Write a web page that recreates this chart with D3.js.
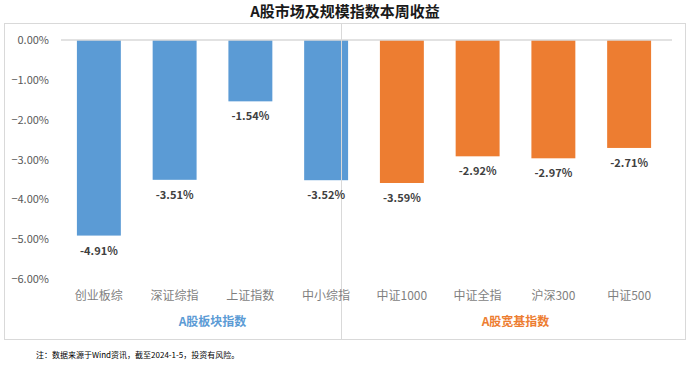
<!DOCTYPE html>
<html>
<head>
<meta charset="utf-8">
<script src="https://cdn.jsdelivr.net/npm/d3@7"></script>
<style>
  body { margin: 0; background: #fff; }
  text { font-family: "Noto Sans CJK SC", "Noto Sans", sans-serif; }
</style>
</head>
<body>
<svg id="chart" width="689" height="368"></svg>
<script>
// dati
const categories = ["创业板综", "深证综指", "上证指数", "中小综指", "中证1000", "中证全指", "沪深300", "中证500"];
const values = [-4.91, -3.51, -1.54, -3.52, -3.59, -2.92, -2.97, -2.71];
const groups = ["A股板块指数", "A股宽基指数"];
const groupOf = [0, 0, 0, 0, 1, 1, 1, 1];
const yTicks = [0, -1, -2, -3, -4, -5, -6];

const colors = ["#5B9BD5", "#ED7D31"];

const svg = d3.select("#chart");

// cornice
svg.append("rect")
  .attr("x", 4.5).attr("y", 23.5)
  .attr("width", 681).attr("height", 316)
  .attr("fill", "none")
  .attr("stroke", "#d9d9d9");

// titolo
svg.append("text")
  .attr("x", 345).attr("y", 17)
  .attr("text-anchor", "middle")
  .attr("font-size", 15)
  .attr("font-weight", "bold")
  .attr("fill", "#1a1a1a")
  .text("A股市场及规模指数本周收益");

const plot = { left: 61, right: 672, top: 40, bottom: 279 };

const x = d3.scaleBand()
  .domain(categories)
  .range([plot.left, 667])
  .paddingInner(0.42)
  .paddingOuter(0.21);

const y = d3.scaleLinear()
  .domain([-6, 0])
  .range([plot.bottom, plot.top]);

// asse Y
const yAxis = svg.append("g")
  .attr("transform", `translate(${plot.left},0)`)
  .call(d3.axisLeft(y).tickValues(yTicks).tickSize(0).tickPadding(12)
    .tickFormat(d => d3.format(".2f")(d) + "%"));
yAxis.select(".domain").remove();
yAxis.selectAll("text")
  .attr("font-size", 11)
  .attr("fill", "#595959");

// barre
svg.selectAll("rect.bar")
  .data(values)
  .join("rect")
  .attr("class", "bar")
  .attr("x", (d, i) => x(categories[i]))
  .attr("y", y(0))
  .attr("width", x.bandwidth())
  .attr("height", d => y(d) - y(0))
  .attr("fill", (d, i) => colors[groupOf[i]]);

// linea dello zero
svg.append("line")
  .attr("x1", plot.left).attr("x2", plot.right)
  .attr("y1", y(0)).attr("y2", y(0))
  .attr("stroke", "#d9d9d9")
  .attr("stroke-width", 1.5);

// separatore tra i gruppi
svg.append("line")
  .attr("x1", 341.5).attr("x2", 341.5)
  .attr("y1", 23.5).attr("y2", 339.5)
  .attr("stroke", "#d9d9d9");

// etichette valori
svg.selectAll("text.val")
  .data(values)
  .join("text")
  .attr("class", "val")
  .attr("x", (d, i) => x(categories[i]) + x.bandwidth() / 2)
  .attr("y", d => y(d) + 19)
  .attr("text-anchor", "middle")
  .attr("font-size", 11)
  .attr("font-weight", "bold")
  .attr("fill", "#404040")
  .text(d => d.toFixed(2) + "%");

// etichette categorie
svg.selectAll("text.cat")
  .data(categories)
  .join("text")
  .attr("class", "cat")
  .attr("x", d => x(d) + x.bandwidth() / 2)
  .attr("y", 300)
  .attr("text-anchor", "middle")
  .attr("font-size", 12)
  .attr("fill", "#7f7f7f")
  .text(d => d);

// etichette gruppi
groups.forEach((g, gi) => {
  const cats = categories.filter((c, i) => groupOf[i] === gi);
  const cx = (x(cats[0]) + x(cats[cats.length - 1]) + x.bandwidth()) / 2;
  svg.append("text")
    .attr("x", cx)
    .attr("y", 326)
    .attr("text-anchor", "middle")
    .attr("font-size", 12)
    .attr("font-weight", "bold")
    .attr("fill", colors[gi])
    .text(g);
});

// nota
svg.append("text")
  .attr("x", 36).attr("y", 358)
  .attr("font-size", 8)
  .attr("fill", "#000")
  .text("注：数据来源于Wind资讯，截至2024-1-5，投资有风险。");
</script>
</body>
</html>
